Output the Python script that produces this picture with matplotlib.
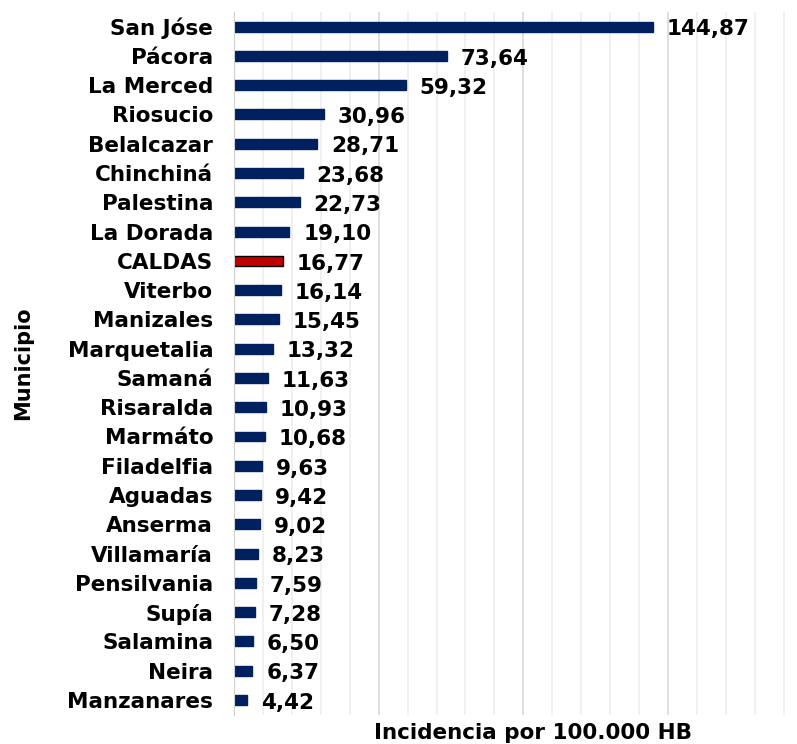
import matplotlib.pyplot as plt
from matplotlib.ticker import MultipleLocator

municipios = ['San Jóse', 'Pácora', 'La Merced', 'Riosucio', 'Belalcazar', 'Chinchiná',
              'Palestina', 'La Dorada', 'CALDAS', 'Viterbo', 'Manizales', 'Marquetalia',
              'Samaná', 'Risaralda', 'Marmáto', 'Filadelfia', 'Aguadas', 'Anserma',
              'Villamaría', 'Pensilvania', 'Supía', 'Salamina', 'Neira', 'Manzanares']
incidencia = [144.87, 73.64, 59.32, 30.96, 28.71, 23.68, 22.73, 19.10, 16.77, 16.14,
              15.45, 13.32, 11.63, 10.93, 10.68, 9.63, 9.42, 9.02, 8.23, 7.59, 7.28,
              6.50, 6.37, 4.42]

plt.rcParams['font.family'] = ['DejaVu Sans']
plt.rcParams['font.weight'] = 'bold'

fig = plt.figure(figsize=(7.97, 7.44), dpi=100)
ax = fig.add_axes([0.2936, 0.0395, 0.726, 0.9444])

pos = list(range(len(municipios)))
colores = ['#C00000' if m == 'CALDAS' else '#002060' for m in municipios]
bordes = ['black' if m == 'CALDAS' else '#002060' for m in municipios]
ax.barh(pos, incidencia, height=0.34, color=colores, edgecolor=bordes, linewidth=1)

# etiquetas de valor con coma decimal
for p, v in zip(pos, incidencia):
    ax.annotate(f'{v:.2f}'.replace('.', ','), (v, p), xytext=(10, -2),
                textcoords='offset points', va='center', ha='left',
                fontsize=15.5, fontweight='bold')

ax.set_xlim(0, 200)
ax.set_ylim(len(municipios) - 0.5, -0.5)
ax.set_yticks(pos)
ax.set_yticklabels(municipios, fontsize=15.5, fontweight='bold')
ax.xaxis.set_major_locator(MultipleLocator(50))
ax.xaxis.set_minor_locator(MultipleLocator(10))
ax.grid(axis='x', which='major', color='#d9d9d9', linewidth=1.2)
ax.grid(axis='x', which='minor', color='#eeeeee', linewidth=1.2)
ax.set_axisbelow(True)
ax.tick_params(axis='x', which='both', length=0, labelbottom=False)
ax.tick_params(axis='y', length=0, pad=15)
for s in ['top', 'right', 'bottom']:
    ax.spines[s].set_visible(False)
ax.spines['left'].set_color('#d0d0d0')

ax.set_xlabel('Incidencia por 100.000 HB', fontsize=15.5, fontweight='bold')
ax.xaxis.set_label_coords(0.516, -0.012)
ax.set_ylabel('Municipio', fontsize=15, fontweight='bold')
ax.yaxis.set_label_coords(-0.347, 0.5)

fig.savefig('out.png', dpi=100)
